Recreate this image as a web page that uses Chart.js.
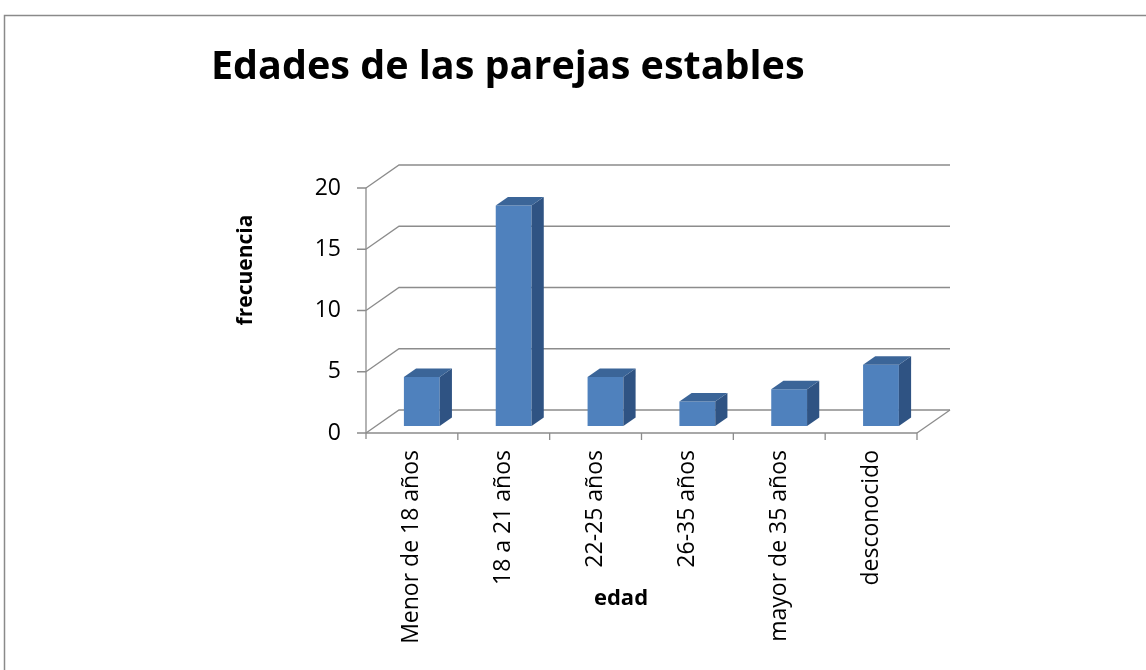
<!DOCTYPE html>
<html>
<head>
<meta charset="utf-8">
<script src="https://cdn.jsdelivr.net/npm/chart.js@4/dist/chart.umd.min.js"></script>
<style>
  html, body { margin: 0; padding: 0; background: #fff; }
  #wrap { width: 1146px; height: 670px; }
</style>
</head>
<body>
<div id="wrap"><canvas id="edadesChart"></canvas></div>
<script>
const categories = ['Menor de 18 años', '18 a 21 años', '22-25 años', '26-35 años', 'mayor de 35 años', 'desconocido'];
const frecuencias = [4, 18, 4, 2, 3, 5];
const yTicks = [0, 5, 10, 15, 20];
const chartTitle = 'Edades de las parejas estables';
const yTitle = 'frecuencia';
const xTitle = 'edad';

// fake 3d: offset of the back wall, and where the bars sit in depth
const dx = 33, dy = -23;
const barShift = 0.3, barDepth = 0.37;
const font = '"Open Sans", "DejaVu Sans", sans-serif';

const wall3d = {
  id: 'wall3d',
  beforeDraw(chart) {
    const { ctx, width, height } = chart;
    ctx.save();
    ctx.fillStyle = '#fff';
    ctx.fillRect(0, 0, width, height);
    ctx.strokeStyle = '#8a8a8a';
    ctx.lineWidth = 1.5;
    ctx.beginPath();
    ctx.moveTo(4.5, height);
    ctx.lineTo(4.5, 15.5);
    ctx.lineTo(width, 15.5);
    ctx.stroke();
    ctx.restore();
  },
  beforeDatasetsDraw(chart) {
    const { ctx, chartArea: a, scales: { y } } = chart;
    ctx.save();
    ctx.strokeStyle = '#8c8c8c';
    ctx.lineWidth = 1.3;
    yTicks.forEach(v => {
      const py = y.getPixelForValue(v);
      ctx.beginPath();
      ctx.moveTo(a.left, py);
      ctx.lineTo(a.left + dx, py + dy);
      ctx.lineTo(a.right + dx, py + dy);
      ctx.stroke();
    });
    ctx.beginPath();
    ctx.moveTo(a.right, a.bottom);
    ctx.lineTo(a.right + dx, a.bottom + dy);
    ctx.stroke();
    ctx.restore();
    // bars front faces are drawn pushed back a little
    ctx.save();
    ctx.translate(dx * barShift, dy * barShift);
  },
  afterDatasetsDraw(chart) {
    const { ctx } = chart;
    const sx = dx * barDepth, sy = dy * barDepth;
    chart.getDatasetMeta(0).data.forEach(bar => {
      const l = bar.x - bar.width / 2, r = bar.x + bar.width / 2;
      ctx.fillStyle = '#2f5383';
      ctx.beginPath();
      ctx.moveTo(r, bar.y);
      ctx.lineTo(r + sx, bar.y + sy);
      ctx.lineTo(r + sx, bar.base + sy);
      ctx.lineTo(r, bar.base);
      ctx.closePath();
      ctx.fill();
      ctx.fillStyle = '#3b6598';
      ctx.beginPath();
      ctx.moveTo(l, bar.y);
      ctx.lineTo(l + sx, bar.y + sy);
      ctx.lineTo(r + sx, bar.y + sy);
      ctx.lineTo(r, bar.y);
      ctx.closePath();
      ctx.fill();
    });
    ctx.restore();
  },
  afterDraw(chart) {
    const { ctx, chartArea: a, scales: { y } } = chart;
    ctx.save();
    ctx.strokeStyle = '#8c8c8c';
    ctx.lineWidth = 1.3;
    // value axis
    ctx.beginPath();
    ctx.moveTo(a.left, a.top);
    ctx.lineTo(a.left, a.bottom + 6);
    yTicks.forEach(v => {
      const py = y.getPixelForValue(v);
      ctx.moveTo(a.left - 9, py);
      ctx.lineTo(a.left, py);
    });
    // category axis
    ctx.moveTo(a.left, a.bottom);
    ctx.lineTo(a.right, a.bottom);
    const w = (a.right - a.left) / categories.length;
    for (let i = 1; i <= categories.length; i++) {
      ctx.moveTo(a.left + i * w, a.bottom);
      ctx.lineTo(a.left + i * w, a.bottom + 7);
    }
    ctx.stroke();

    ctx.fillStyle = '#000';
    ctx.font = 'bold 39.5px ' + font;
    ctx.textAlign = 'left';
    ctx.textBaseline = 'alphabetic';
    ctx.fillText(chartTitle, 211, 79);

    ctx.font = 'bold 22px ' + font;
    ctx.textAlign = 'center';
    ctx.textBaseline = 'middle';
    ctx.fillText(xTitle, 621, 599);
    ctx.font = 'bold 21px ' + font;
    ctx.translate(246, 270);
    ctx.rotate(-Math.PI / 2);
    ctx.fillText(yTitle, 0, 0);
    ctx.restore();
  }
};

const ctx = document.getElementById('edadesChart').getContext('2d');
const edadesChart = new Chart(ctx, {
  type: 'bar',
  data: {
    labels: categories,
    datasets: [{
      data: frecuencias,
      backgroundColor: '#4f81bd',
      borderWidth: 0,
      barPercentage: 0.39,
      categoryPercentage: 1
    }]
  },
  options: {
    responsive: true,
    maintainAspectRatio: false,
    animation: false,
    layout: { padding: { left: 266, right: 229, top: 188, bottom: 0 } },
    plugins: {
      legend: { display: false },
      tooltip: { enabled: false }
    },
    scales: {
      x: {
        grid: { display: false, drawTicks: false },
        border: { display: false },
        afterFit: s => { s.height = 237; },
        ticks: {
          minRotation: 90,
          maxRotation: 90,
          autoSkip: false,
          padding: 17,
          color: '#000',
          font: { family: font, size: 23 }
        }
      },
      y: {
        min: 0,
        max: 20,
        grid: { display: false, drawTicks: false },
        border: { display: false },
        afterFit: s => { s.width = 100; },
        ticks: {
          stepSize: 5,
          padding: 25,
          color: '#000',
          font: { family: font, size: 23 }
        }
      }
    }
  },
  plugins: [wall3d]
});
</script>
</body>
</html>
